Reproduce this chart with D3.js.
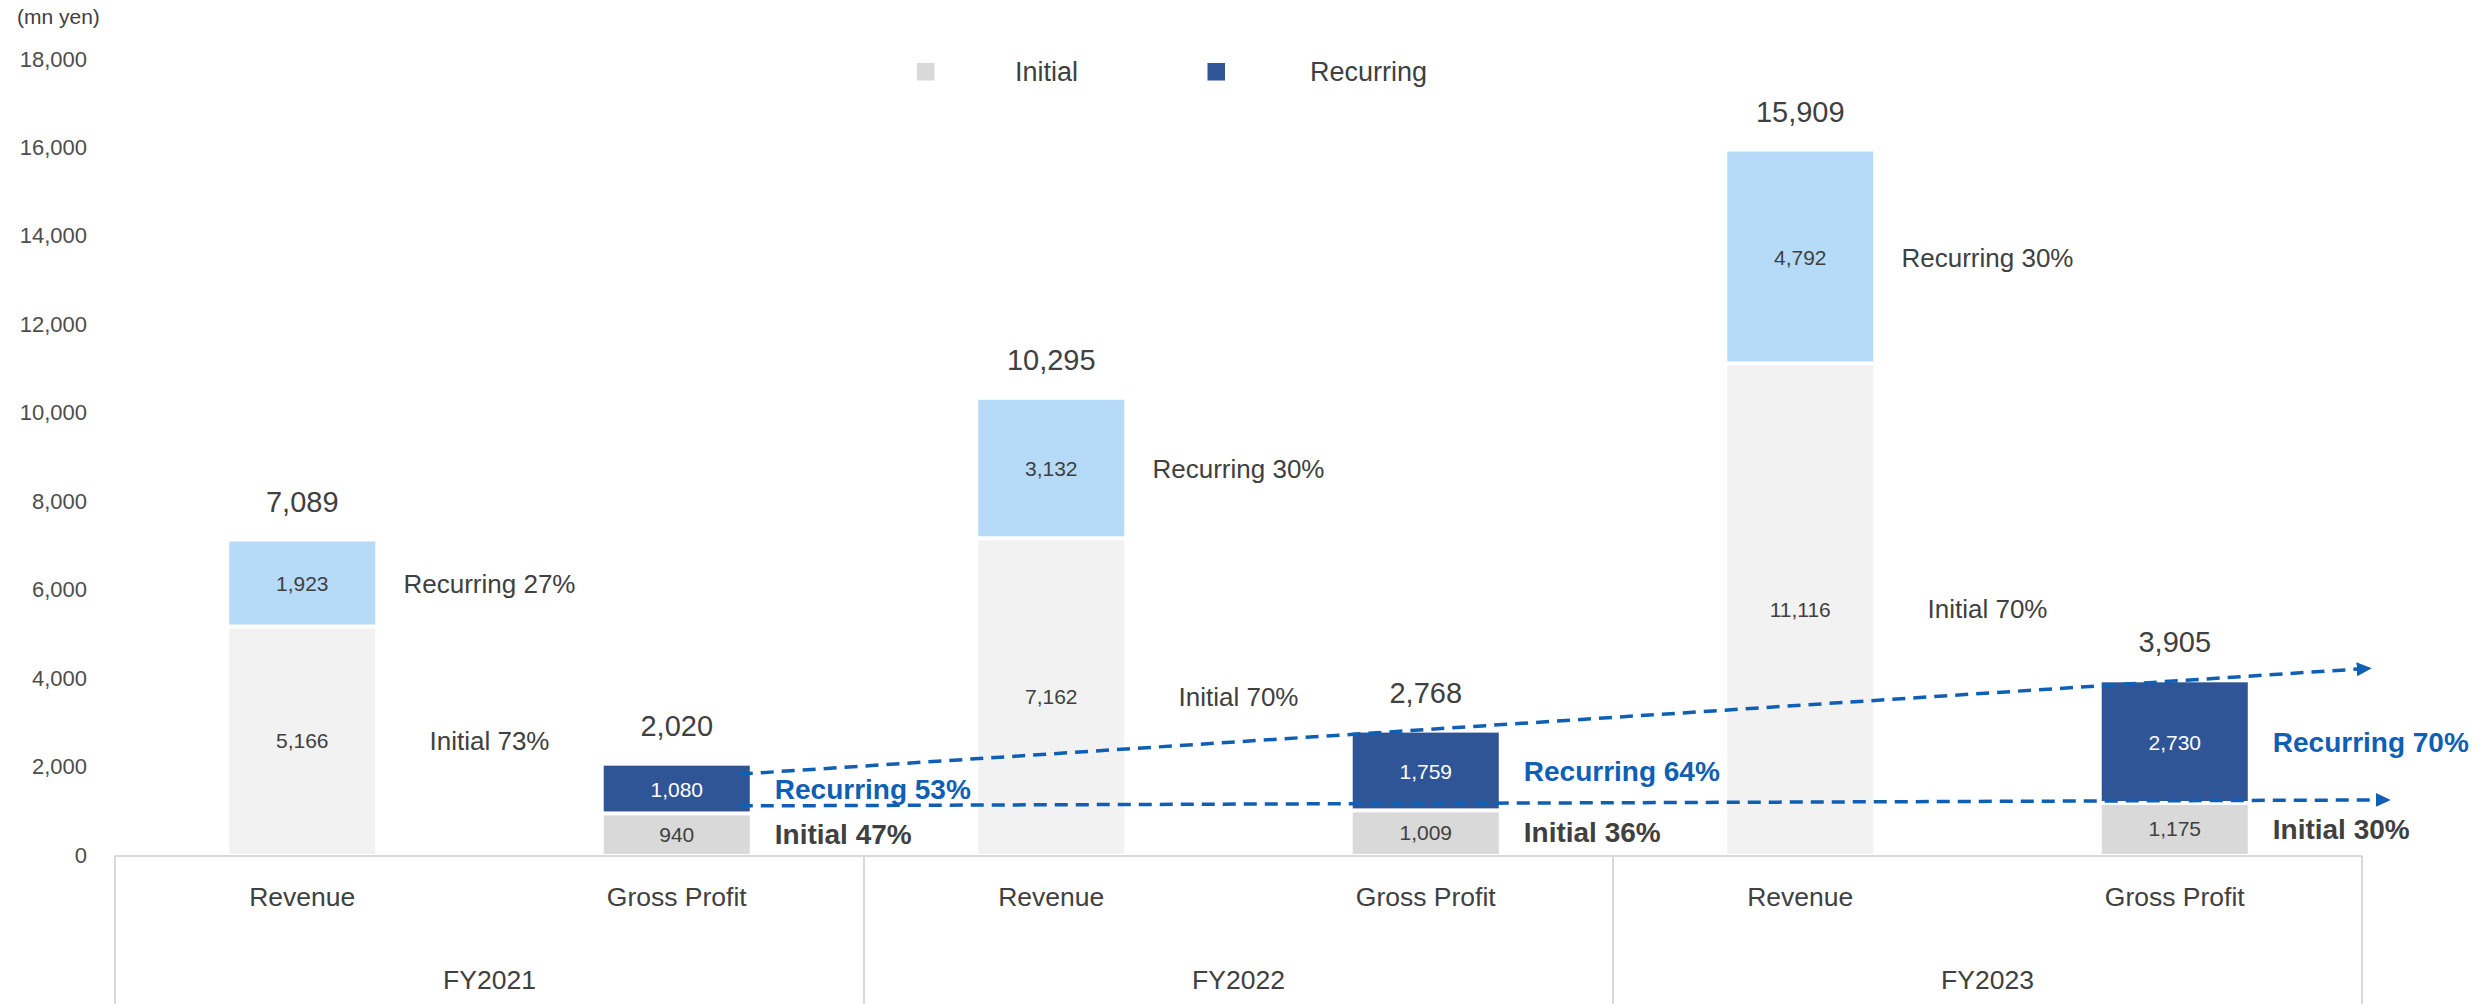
<!DOCTYPE html>
<html>
<head>
<meta charset="utf-8">
<script src="https://cdn.jsdelivr.net/npm/d3@7"></script>
<style>
  body { margin: 0; background: #fff; }
  svg { display: block; font-family: "Liberation Sans", Arial, sans-serif; }
</style>
</head>
<body>
<svg id="chart" width="2481" height="1004"></svg>
<script>
// ---- data (mn yen) ----
const years = ["FY2021", "FY2022", "FY2023"];
const measures = ["Revenue", "Gross Profit"];
const revenueInitial = [5166, 7162, 11116];
const revenueRecurring = [1923, 3132, 4792];
const revenueTotal = [7089, 10295, 15909];
const grossInitial = [940, 1009, 1175];
const grossRecurring = [1080, 1759, 2730];
const grossTotal = [2020, 2768, 3905];
const revenueInitialShare = [73, 70, 70];
const revenueRecurringShare = [27, 30, 30];
const grossInitialShare = [47, 36, 30];
const grossRecurringShare = [53, 64, 70];
const yTicks = [0, 2000, 4000, 6000, 8000, 10000, 12000, 14000, 16000, 18000];
const legendLabels = ["Initial", "Recurring"];
// gross-profit trend arrows: level at start (FY2021) and end (after FY2023)
const trendRecurring = [1830, 4210];
const trendInitial = [1110, 1245];

// ---- styles ----
const TEXT = "#404040";
const BLUE = "#0F5FB4";
const colors = {
  "Revenue": { initial: "#F2F2F2", recurring: "#B5DBF9" },
  "Gross Profit": { initial: "#D9D9D9", recurring: "#2F5597" }
};

const svg = d3.select("#chart");

const x0 = d3.scaleBand().domain(years).range([115, 2362]);
const x1 = d3.scaleBand().domain(measures).range([0, x0.bandwidth()]);
const barW = x1.bandwidth() * 0.39;
const y = d3.scaleLinear().domain([0, 18000]).range([855, 59]);

const rows = [];
years.forEach((yr, i) => {
  rows.push({ year: yr, measure: "Revenue", initial: revenueInitial[i], recurring: revenueRecurring[i],
              total: revenueTotal[i], initShare: revenueInitialShare[i], recShare: revenueRecurringShare[i] });
  rows.push({ year: yr, measure: "Gross Profit", initial: grossInitial[i], recurring: grossRecurring[i],
              total: grossTotal[i], initShare: grossInitialShare[i], recShare: grossRecurringShare[i] });
});
const barX = d => x0(d.year) + x1(d.measure) + (x1.bandwidth() - barW) / 2;
const barCx = d => barX(d) + barW / 2;
const fmt = d3.format(",");
const GAP = 2;

// ---- y axis ----
const yAxis = svg.append("g")
  .attr("transform", "translate(96,0)")
  .call(d3.axisLeft(y).tickValues(yTicks).tickFormat(fmt).tickSize(0).tickPadding(9));
yAxis.select(".domain").remove();
yAxis.selectAll("text").attr("font-size", 22).attr("fill", "#4d4d4d")
  .attr("font-family", "'Liberation Sans', Arial, sans-serif");

svg.append("text").attr("x", 17).attr("y", 17).attr("dy", "0.35em")
  .attr("font-size", 21).attr("fill", TEXT).text("(mn yen)");

// ---- bars ----
const bars = svg.append("g");
bars.selectAll("rect.init").data(rows).join("rect")
  .attr("class", "init")
  .attr("x", barX).attr("width", barW)
  .attr("y", d => y(d.initial) + GAP)
  .attr("height", d => y(0) - 1 - (y(d.initial) + GAP))
  .attr("fill", d => colors[d.measure].initial);
bars.selectAll("rect.rec").data(rows).join("rect")
  .attr("class", "rec")
  .attr("x", barX).attr("width", barW)
  .attr("y", d => y(d.initial + d.recurring))
  .attr("height", d => y(d.initial) - GAP - y(d.initial + d.recurring))
  .attr("fill", d => colors[d.measure].recurring);

// ---- category frame ----
const frame = svg.append("g").attr("stroke", "#D9D9D9").attr("stroke-width", 2);
frame.append("line").attr("x1", x0.range()[0]).attr("x2", x0.range()[1]).attr("y1", 856).attr("y2", 856);
const bounds = years.map(v => x0(v)).concat([x0.range()[1]]);
frame.selectAll("line.v").data(bounds).join("line").attr("class", "v")
  .attr("x1", d => d).attr("x2", d => d).attr("y1", 856).attr("y2", 1004);

years.forEach(yr => {
  measures.forEach(m => {
    svg.append("text").attr("x", x0(yr) + x1(m) + x1.bandwidth() / 2).attr("y", 897).attr("dy", "0.35em")
      .attr("text-anchor", "middle").attr("font-size", 26.5).attr("fill", TEXT).text(m);
  });
  svg.append("text").attr("x", x0(yr) + x0.bandwidth() / 2).attr("y", 980).attr("dy", "0.35em")
    .attr("text-anchor", "middle").attr("font-size", 26.5).attr("fill", TEXT).text(yr);
});

// ---- trend arrows over gross profit ----
const defs = svg.append("defs");
defs.append("marker").attr("id", "arrow").attr("markerUnits", "userSpaceOnUse")
  .attr("markerWidth", 16).attr("markerHeight", 16).attr("refX", 5).attr("refY", 7)
  .attr("orient", "auto")
  .append("path").attr("d", "M0,0 L15,7 L0,14 Z").attr("fill", BLUE);

const gp0 = rows.find(d => d.year === years[0] && d.measure === "Gross Profit");
const gp2 = rows.find(d => d.year === years[2] && d.measure === "Gross Profit");
const trends = [
  { levels: trendRecurring, extra: 114 },
  { levels: trendInitial, extra: 133 }
];
svg.append("g").selectAll("line").data(trends).join("line")
  .attr("x1", barX(gp0) + barW - 10)
  .attr("y1", d => y(d.levels[0]))
  .attr("x2", d => barX(gp2) + barW + d.extra)
  .attr("y2", d => y(d.levels[1]))
  .attr("stroke", BLUE).attr("stroke-width", 3.5).attr("stroke-dasharray", "13,8")
  .attr("marker-end", "url(#arrow)");

// ---- labels ----
const labels = svg.append("g");
// values inside segments
labels.selectAll("text.vi").data(rows).join("text")
  .attr("x", barCx).attr("y", d => (y(d.initial) + y(0)) / 2).attr("dy", "0.35em")
  .attr("text-anchor", "middle").attr("font-size", 21).attr("fill", TEXT)
  .text(d => fmt(d.initial));
labels.selectAll("text.vr").data(rows).join("text")
  .attr("x", barCx).attr("y", d => (y(d.initial) + y(d.initial + d.recurring)) / 2).attr("dy", "0.35em")
  .attr("text-anchor", "middle").attr("font-size", 21)
  .attr("fill", d => d.measure === "Gross Profit" ? "#fff" : TEXT)
  .text(d => fmt(d.recurring));
// totals above bars
labels.selectAll("text.tot").data(rows).join("text")
  .attr("x", barCx).attr("y", d => y(d.total) - 40).attr("dy", "0.35em")
  .attr("text-anchor", "middle").attr("font-size", 29).attr("fill", TEXT)
  .text(d => fmt(d.total));

// share labels next to bars
const rev = rows.filter(d => d.measure === "Revenue");
const gp = rows.filter(d => d.measure === "Gross Profit");
const revSideX = d => x0(d.year) + x1.bandwidth();
labels.selectAll("text.rs").data(rev).join("text")
  .attr("x", revSideX).attr("y", d => (y(d.initial) + y(d.initial + d.recurring)) / 2).attr("dy", "0.35em")
  .attr("text-anchor", "middle").attr("font-size", 26).attr("fill", TEXT)
  .text(d => `Recurring ${d.recShare}%`);
labels.selectAll("text.is").data(rev).join("text")
  .attr("x", revSideX).attr("y", d => (y(d.initial) + y(0)) / 2).attr("dy", "0.35em")
  .attr("text-anchor", "middle").attr("font-size", 26).attr("fill", TEXT)
  .text(d => `Initial ${d.initShare}%`);
labels.selectAll("text.grs").data(gp).join("text")
  .attr("x", d => barX(d) + barW + 25).attr("y", d => (y(d.initial) + y(d.initial + d.recurring)) / 2).attr("dy", "0.35em")
  .attr("font-size", 28).attr("font-weight", "bold").attr("fill", BLUE)
  .text(d => `Recurring ${d.recShare}%`);
labels.selectAll("text.gis").data(gp).join("text")
  .attr("x", d => barX(d) + barW + 25).attr("y", d => (y(d.initial) + y(0)) / 2).attr("dy", "0.35em")
  .attr("font-size", 28).attr("font-weight", "bold").attr("fill", TEXT)
  .text(d => `Initial ${d.initShare}%`);

// ---- legend ----
const legend = svg.append("g");
const legendX = [917, 1207.5];
const legendTextX = [1015, 1310];
const legendColors = [colors["Gross Profit"].initial, colors["Gross Profit"].recurring];
legendLabels.forEach((lab, i) => {
  legend.append("rect").attr("x", legendX[i]).attr("y", 63).attr("width", 17.5).attr("height", 17.5)
    .attr("fill", legendColors[i]);
  legend.append("text").attr("x", legendTextX[i]).attr("y", 72).attr("dy", "0.35em")
    .attr("font-size", 27).attr("fill", TEXT).text(lab);
});
</script>
</body>
</html>
